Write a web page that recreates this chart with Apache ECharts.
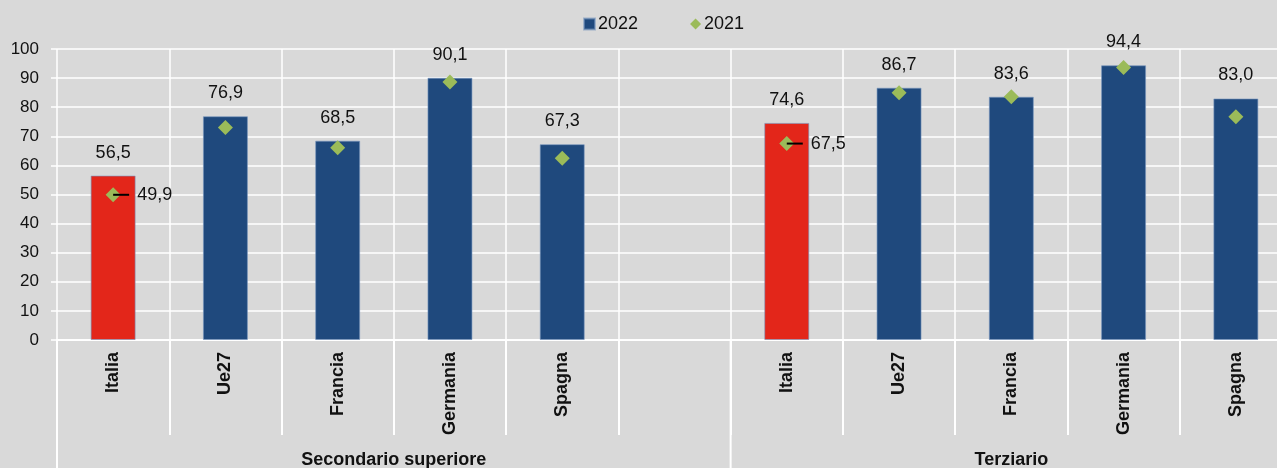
<!DOCTYPE html>
<html>
<head>
<meta charset="utf-8">
<script src="https://cdn.jsdelivr.net/npm/echarts@6/dist/echarts.min.js"></script>
<style>
html, body { margin: 0; padding: 0; background: #d9d9d9; }
#chart { width: 1277px; height: 468px; }
</style>
</head>
<body>
<div id="chart"></div>
<script>
var categories = ['Italia', 'Ue27', 'Francia', 'Germania', 'Spagna', '', 'Italia', 'Ue27', 'Francia', 'Germania', 'Spagna'];
var values2022 = [56.5, 76.9, 68.5, 90.1, 67.3, null, 74.6, 86.7, 83.6, 94.4, 83.0];
var values2021 = [49.9, 73.0, 66.1, 88.7, 62.5, null, 67.5, 85.0, 83.6, 93.6, 76.7];
var labelled2021 = [0, 6];
var groups = ['Secondario superiore', 'Terziario'];
var groupRanges = [[0, 5], [6, 10]];

var FONT = '"Liberation Sans", Arial, sans-serif';
var BLUE = '#1f497d', RED = '#e3261a', GREEN = '#9bbb59';

function fmt(v){
    return v.toFixed(1).replace('.', ',');
}

var barData = values2022.map(function(v, i){
    if (v === null) return '-';
    return { value: v, itemStyle: { color: i === 0 || i === 6 ? RED : BLUE } };
});

var dotData = values2021.map(function(v, i){
    if (v === null) return '-';
    var d = { value: v };
    if (labelled2021.indexOf(i) >= 0) {
        d.label = {
            show: true,
            position: ['50%', '50%'],
            align: 'left',
            verticalAlign: 'middle',
            formatter: function(p){ return '{l|}{v|' + fmt(p.value) + '}'; },
            rich: {
                l: { width: 16, height: 2, backgroundColor: '#000' },
                v: { fontFamily: FONT, fontSize: 18, color: '#111', padding: [0, 0, 0, 8] }
            }
        };
    }
    return d;
});

var chart = echarts.init(document.getElementById('chart'));
chart.setOption({
    backgroundColor: '#d9d9d9',
    animation: false,
    textStyle: { fontFamily: FONT },
    legend: {
        left: 578,
        top: 10,
        itemGap: 52,
        itemWidth: 11,
        itemHeight: 11,
        textStyle: { fontFamily: FONT, fontSize: 18, color: '#111', padding: [0, 0, 0, -2] },
        data: [
            { name: '2022', icon: 'rect', itemStyle: { color: BLUE } },
            { name: '2021', icon: 'diamond', itemStyle: { color: GREEN } }
        ]
    },
    grid: { left: 57, top: 49, width: 1235, height: 291, outerBoundsMode: 'none', containLabel: false },
    xAxis: {
        type: 'category',
        data: categories,
        boundaryGap: true,
        axisLine: { lineStyle: { color: '#fff', width: 2 } },
        axisTick: { show: true, interval: 0, length: 95, lineStyle: { color: '#fff', width: 2 } },
        splitLine: { show: true, interval: 0, lineStyle: { color: '#fff', width: 1.5 } },
        axisLabel: {
            interval: 0, rotate: 90, margin: 12,
            fontFamily: FONT, fontSize: 18, fontWeight: 'bold', color: '#111'
        }
    },
    yAxis: {
        type: 'value',
        min: 0, max: 100, interval: 10,
        axisLine: { show: false },
        axisTick: { show: true, length: 6, lineStyle: { color: '#fff', width: 1.5 } },
        splitLine: { lineStyle: { color: '#fff', width: 1.5 } },
        axisLabel: { margin: 18, fontFamily: FONT, fontSize: 17, color: '#111' }
    },
    series: [
        {
            name: '2022',
            type: 'bar',
            data: barData,
            barWidth: 45,
            itemStyle: { color: BLUE, borderColor: 'rgba(120,150,190,0.6)', borderWidth: 1 },
            label: {
                show: true, position: 'top', distance: 14,
                fontFamily: FONT, fontSize: 18, color: '#111',
                formatter: function(p){ return fmt(p.value); }
            },
            z: 2
        },
        {
            name: '2021',
            type: 'scatter',
            data: dotData,
            symbol: 'diamond',
            symbolSize: 15,
            itemStyle: { color: GREEN, opacity: 1 },
            z: 3
        }
    ]
});

// group labels and long separators under the category axis
var half = (chart.convertToPixel({ xAxisIndex: 0 }, 1) - chart.convertToPixel({ xAxisIndex: 0 }, 0)) / 2;
var baseY = chart.convertToPixel({ yAxisIndex: 0 }, 0);
var elements = [];
groups.forEach(function(g, i){
    var x0 = chart.convertToPixel({ xAxisIndex: 0 }, groupRanges[i][0]);
    var x1 = chart.convertToPixel({ xAxisIndex: 0 }, groupRanges[i][1]);
    elements.push({
        type: 'line',
        shape: { x1: x0 - half, y1: baseY, x2: x0 - half, y2: 468 },
        style: { stroke: '#fff', lineWidth: 2 }
    });
    elements.push({
        type: 'text',
        x: (x0 + x1) / 2,
        y: 451,
        style: {
            text: g, align: 'center', verticalAlign: 'top',
            font: 'bold 18px ' + FONT, fill: '#111'
        }
    });
});
chart.setOption({ graphic: elements });
</script>
</body>
</html>
